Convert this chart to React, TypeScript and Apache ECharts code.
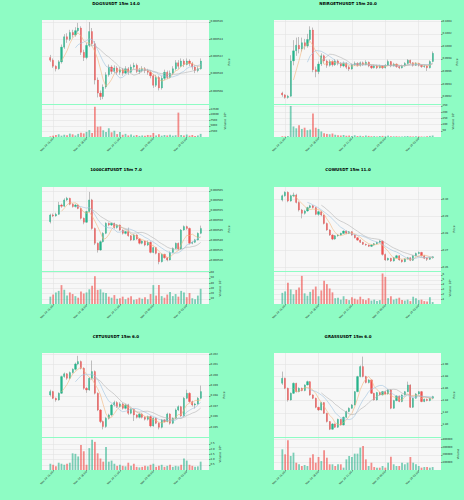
import { useEffect, useRef } from 'react';
import * as echarts from 'echarts';

// ---- shared time axis ----
const TICK_INDEX = [1, 13, 25, 37, 49];
const TICK_LABELS = ['Nov 24 15:00', 'Nov 24 18:00', 'Nov 24 21:00', 'Nov 25 00:00', 'Nov 25 03:00'];
const MA_PERIODS = [5, 10, 15];

// ---- DOGSUSDT (prices in 1e-6) ----
const DOGS_UNIT = 1e-6;
const DOGS_OHLC = [
  [511.9, 511.6, 511.4, 512.2], [511.6, 510.9, 510.7, 511.8], [510.9, 510.6, 510.3, 511.0], [510.6, 511.4, 510.5, 511.6],
  [511.4, 513.1, 511.2, 513.4], [513.1, 514.3, 512.9, 514.6], [514.3, 514.0, 513.6, 514.7], [514.0, 514.8, 513.8, 515.1],
  [514.8, 514.5, 514.2, 515.1], [514.5, 515.0, 514.3, 515.4], [515.0, 515.3, 514.8, 515.9], [515.3, 512.5, 512.2, 515.5],
  [512.5, 511.9, 511.5, 512.8], [511.9, 513.3, 511.7, 513.6], [513.3, 514.9, 513.1, 516.0], [514.9, 513.5, 513.2, 515.3],
  [513.5, 509.3, 508.8, 513.8], [509.3, 507.8, 507.3, 509.6], [507.8, 507.4, 507.0, 508.1], [507.4, 508.5, 507.1, 508.8],
  [508.5, 509.9, 508.3, 510.2], [509.9, 510.8, 509.7, 511.1], [510.8, 510.3, 510.0, 511.0], [510.3, 510.7, 510.1, 511.0],
  [510.7, 510.2, 509.9, 510.9], [510.2, 510.5, 509.9, 510.8], [510.5, 510.1, 509.8, 510.7], [510.1, 510.6, 510.0, 510.9],
  [510.6, 510.2, 509.9, 510.8], [510.2, 510.8, 510.1, 511.1], [510.8, 511.0, 510.6, 511.3], [511.0, 510.3, 510.1, 511.2],
  [510.3, 510.4, 510.0, 510.7], [510.4, 510.6, 510.2, 510.9], [510.6, 510.4, 510.1, 510.8], [510.4, 510.2, 509.9, 510.6],
  [510.2, 509.8, 509.5, 510.4], [509.8, 508.7, 508.4, 510.0], [508.7, 509.6, 508.5, 509.9], [509.6, 508.4, 508.1, 509.8],
  [508.4, 509.5, 508.2, 509.8], [509.5, 510.2, 509.3, 510.5], [510.2, 509.6, 509.4, 510.4], [509.6, 510.1, 509.5, 510.4],
  [510.1, 510.6, 509.9, 510.9], [510.6, 511.3, 510.4, 511.6], [511.3, 510.9, 510.6, 511.6], [510.9, 511.5, 510.8, 511.8],
  [511.5, 511.1, 510.8, 511.7], [511.1, 511.5, 511.0, 511.8], [511.5, 511.2, 510.9, 511.7], [511.2, 510.8, 510.5, 511.4],
  [510.8, 510.4, 510.1, 511.0], [510.4, 510.6, 510.2, 510.9], [510.6, 511.5, 510.5, 511.8],
];
const DOGS_VOLUME = [
  300, 600, 900, 1200, 600, 1000, 800, 1500, 1200, 700, 1400, 1900, 1600, 2300, 3100, 1800, 13500, 4600, 4700, 3000,
  2200, 3900, 2100, 2800, 1300, 2200, 1000, 1400, 700, 1100, 600, 900, 500, 700, 600, 900, 800, 1800, 700, 1200,
  600, 900, 700, 1000, 600, 800, 10900, 900, 700, 1100, 600, 900, 500, 700, 1400,
];
const DOGS_PRICE_TICKS = [0.000508, 0.00051, 0.000512, 0.000514, 0.000516];
const DOGS_VOLUME_TICKS = [2500, 5000, 7500, 10000, 12500];

// ---- NEIROETHUSDT (prices in 1e-4) ----
const NEIRO_UNIT = 1e-4;
const NEIRO_OHLC = [
  [992.6, 992.3, 992.0, 992.8], [992.3, 991.9, 991.7, 992.4], [991.9, 992.1, 991.7, 992.3], [992.1, 997.7, 992.0, 998.6],
  [997.7, 999.3, 997.0, 1001.0], [999.3, 1000.2, 998.5, 1001.4], [1000.2, 999.6, 998.9, 1001.5], [999.6, 1000.6, 999.2, 1001.4],
  [1000.6, 1000.1, 999.5, 1001.2], [1000.1, 1001.1, 999.8, 1002.0], [1001.1, 1002.6, 1000.8, 1003.2], [1002.6, 996.3, 995.9, 1003.0],
  [996.3, 996.0, 995.1, 996.8], [996.0, 997.2, 995.6, 997.6], [997.2, 998.5, 996.9, 998.9], [998.5, 997.7, 997.3, 998.7],
  [997.7, 997.0, 996.6, 997.9], [997.0, 997.6, 996.8, 997.9], [997.6, 997.1, 996.8, 997.8], [997.1, 997.7, 996.9, 998.0],
  [997.7, 997.3, 997.0, 997.9], [997.3, 996.9, 996.6, 997.5], [996.9, 997.3, 996.7, 997.6], [997.3, 996.7, 996.4, 997.5],
  [996.7, 996.4, 996.1, 996.9], [996.4, 997.1, 996.3, 997.3], [997.1, 997.3, 996.9, 997.6], [997.3, 997.0, 996.8, 997.5],
  [997.0, 997.4, 996.8, 997.6], [997.4, 997.1, 996.9, 997.6], [997.1, 997.5, 997.0, 997.8], [997.5, 996.9, 996.7, 997.6],
  [996.9, 996.6, 996.4, 997.1], [996.6, 996.9, 996.5, 997.1], [996.9, 996.6, 996.4, 997.1], [996.6, 996.9, 996.5, 997.1],
  [996.9, 996.6, 996.4, 997.0], [996.6, 997.0, 996.5, 997.2], [997.0, 997.6, 996.9, 997.9], [997.6, 996.9, 996.7, 997.7],
  [996.9, 997.2, 996.8, 997.4], [997.2, 996.8, 996.6, 997.3], [996.8, 996.6, 996.4, 996.9], [996.6, 996.9, 996.5, 997.1],
  [996.9, 997.3, 996.8, 997.5], [997.3, 997.8, 997.1, 998.0], [997.8, 997.4, 997.2, 997.9], [997.4, 997.0, 996.8, 997.5],
  [997.0, 997.3, 996.9, 997.5], [997.3, 997.0, 996.8, 997.4], [997.0, 996.8, 996.6, 997.1], [996.8, 996.9, 996.6, 997.1],
  [996.9, 996.6, 996.1, 997.0], [996.6, 997.6, 996.5, 997.8], [997.6, 998.9, 997.5, 999.2],
];
const NEIRO_VOLUME = [
  6, 4, 8, 250, 85, 70, 95, 65, 75, 55, 60, 190, 75, 65, 45, 30, 25, 22, 28, 18,
  14, 12, 16, 10, 12, 9, 14, 8, 10, 7, 12, 9, 6, 7, 5, 8, 9, 6, 11, 7,
  5, 6, 4, 5, 6, 8, 5, 4, 6, 5, 4, 3, 6, 9, 12,
];
const NEIRO_PRICE_TICKS = [0.0992, 0.0994, 0.0996, 0.0998, 0.1, 0.1002, 0.1004];
const NEIRO_VOLUME_TICKS = [50, 100, 150, 200, 250];

// ---- 1000CATUSDT (prices in 1e-6) ----
const CAT_UNIT = 1e-6;
const CAT_OHLC = [
  [549.5, 552.9, 548.6, 553.5], [552.9, 552.4, 551.8, 553.6], [552.4, 553.2, 552.0, 554.0], [553.2, 557.9, 552.9, 559.5],
  [557.9, 557.3, 556.5, 558.6], [557.3, 560.5, 557.0, 561.3], [560.5, 561.3, 559.9, 562.0], [561.3, 558.3, 557.8, 561.6],
  [558.3, 557.1, 556.6, 558.8], [557.1, 557.9, 556.7, 558.5], [557.9, 556.2, 555.8, 558.2], [556.2, 551.2, 550.6, 556.5],
  [551.2, 549.2, 548.2, 551.6], [549.2, 554.6, 548.9, 555.0], [554.6, 560.5, 554.3, 564.5], [560.5, 546.1, 545.5, 561.0],
  [546.1, 538.6, 537.7, 546.5], [538.6, 535.2, 533.9, 539.0], [535.2, 539.4, 534.8, 540.0], [539.4, 543.6, 539.0, 544.2],
  [543.6, 548.7, 543.2, 549.2], [548.7, 547.8, 547.2, 549.1], [547.8, 548.7, 547.3, 549.0], [548.7, 546.5, 546.0, 549.0],
  [546.5, 547.8, 546.0, 548.3], [547.8, 545.3, 544.8, 548.1], [545.3, 543.6, 543.0, 545.6], [543.6, 544.5, 543.1, 544.9],
  [544.5, 542.4, 541.9, 546.5], [542.4, 540.3, 539.7, 542.8], [540.3, 542.8, 539.9, 543.2], [542.8, 540.8, 540.3, 543.1],
  [540.8, 538.6, 538.0, 541.2], [538.6, 539.7, 538.1, 540.1], [539.7, 537.7, 537.1, 540.0], [537.7, 539.1, 537.2, 540.0],
  [539.1, 534.0, 533.5, 539.5], [534.0, 536.4, 533.6, 536.9], [536.4, 533.5, 533.0, 536.8], [533.5, 529.3, 528.0, 533.8],
  [529.3, 533.0, 528.9, 533.5], [533.0, 531.3, 530.8, 533.3], [531.3, 530.2, 529.5, 531.6], [530.2, 534.0, 529.9, 534.5],
  [534.0, 536.0, 533.6, 536.5], [536.0, 538.6, 535.7, 539.0], [538.6, 535.7, 535.2, 539.0], [535.7, 545.3, 535.3, 545.8],
  [545.3, 547.0, 544.9, 547.6], [547.0, 546.1, 545.4, 547.5], [546.1, 538.6, 538.0, 546.5], [538.6, 539.1, 538.1, 539.6],
  [539.1, 540.3, 538.7, 540.8], [540.3, 543.6, 540.0, 544.1], [543.6, 546.1, 543.2, 547.5],
];
const CAT_VOLUME = [
  14, 18, 22, 25, 36, 27, 16, 22, 19, 15, 12, 24, 20, 22, 28, 35, 53, 27, 28, 22,
  21, 14, 12, 17, 10, 11, 14, 9, 12, 15, 8, 9, 12, 10, 13, 9, 19, 36, 16, 36,
  15, 12, 18, 23, 15, 19, 14, 25, 22, 13, 21, 11, 9, 16, 29,
];
const CAT_PRICE_TICKS = [0.00053, 0.000535, 0.00054, 0.000545, 0.00055, 0.000555, 0.00056, 0.000565];
const CAT_VOLUME_TICKS = [10, 20, 30, 40, 50, 60];

// ---- COWUSDT ----
const COW_OHLC = [
  [0.2998, 0.3024, 0.2990, 0.3030], [0.3024, 0.3044, 0.3018, 0.3050], [0.3044, 0.2992, 0.2985, 0.3050], [0.2992, 0.3024, 0.2988, 0.3030],
  [0.3024, 0.3028, 0.3015, 0.3042], [0.3028, 0.2984, 0.2978, 0.3035], [0.2984, 0.2939, 0.2930, 0.2990], [0.2939, 0.2919, 0.2889, 0.2945],
  [0.2919, 0.2933, 0.2912, 0.2940], [0.2933, 0.2953, 0.2928, 0.2958], [0.2953, 0.2964, 0.2948, 0.2970], [0.2964, 0.2953, 0.2948, 0.2968],
  [0.2953, 0.2913, 0.2908, 0.2958], [0.2913, 0.2929, 0.2905, 0.2935], [0.2929, 0.2909, 0.2902, 0.2934], [0.2909, 0.2859, 0.2853, 0.2912],
  [0.2859, 0.2820, 0.2815, 0.2864], [0.2820, 0.2790, 0.2785, 0.2825], [0.2790, 0.2766, 0.2760, 0.2795], [0.2766, 0.2786, 0.2762, 0.2790],
  [0.2786, 0.2790, 0.2780, 0.2796], [0.2790, 0.2800, 0.2786, 0.2804], [0.2800, 0.2814, 0.2796, 0.2818], [0.2814, 0.2800, 0.2795, 0.2818],
  [0.2800, 0.2810, 0.2796, 0.2814], [0.2810, 0.2790, 0.2786, 0.2813], [0.2790, 0.2774, 0.2770, 0.2794], [0.2774, 0.2760, 0.2756, 0.2778],
  [0.2760, 0.2747, 0.2743, 0.2764], [0.2747, 0.2735, 0.2731, 0.2750], [0.2735, 0.2731, 0.2726, 0.2739], [0.2731, 0.2723, 0.2719, 0.2734],
  [0.2723, 0.2731, 0.2719, 0.2735], [0.2731, 0.2739, 0.2727, 0.2743], [0.2739, 0.2747, 0.2735, 0.2750], [0.2747, 0.2754, 0.2743, 0.2760],
  [0.2754, 0.2675, 0.2668, 0.2758], [0.2675, 0.2642, 0.2636, 0.2680], [0.2642, 0.2652, 0.2637, 0.2656], [0.2652, 0.2636, 0.2630, 0.2655],
  [0.2636, 0.2655, 0.2632, 0.2660], [0.2655, 0.2667, 0.2650, 0.2672], [0.2667, 0.2642, 0.2637, 0.2670], [0.2642, 0.2632, 0.2626, 0.2645],
  [0.2632, 0.2648, 0.2628, 0.2652], [0.2648, 0.2655, 0.2644, 0.2660], [0.2655, 0.2640, 0.2635, 0.2658], [0.2640, 0.2667, 0.2636, 0.2671],
  [0.2667, 0.2681, 0.2663, 0.2686], [0.2681, 0.2687, 0.2676, 0.2692], [0.2687, 0.2667, 0.2662, 0.2690], [0.2667, 0.2652, 0.2647, 0.2670],
  [0.2652, 0.2646, 0.2636, 0.2656], [0.2646, 0.2655, 0.2642, 0.2659], [0.2655, 0.2661, 0.2650, 0.2665],
];
const COW_VOLUME = [
  2.3, 2.6, 4.4, 3.0, 2.0, 2.9, 3.4, 5.8, 2.2, 1.7, 2.5, 3.0, 3.6, 1.6, 2.8, 4.8, 4.1, 3.2, 2.4, 1.2,
  1.3, 0.9, 1.6, 1.0, 0.8, 1.4, 1.1, 0.9, 1.5, 1.0, 0.8, 1.2, 0.7, 0.9, 0.6, 0.8, 6.3, 5.6, 1.2, 1.6,
  0.9, 1.1, 1.3, 0.8, 0.7, 0.9, 0.6, 1.5, 1.2, 0.8, 0.9, 0.6, 0.5, 1.4, 0.4,
];
const COW_PRICE_TICKS = [0.26, 0.27, 0.28, 0.29, 0.3];
const COW_VOLUME_TICKS = [1, 2, 3, 4, 5, 6];

// ---- CETUSUSDT ----
const CETUS_OHLC = [
  [0.19810, 0.19842, 0.19795, 0.19860], [0.19842, 0.19778, 0.19770, 0.19850], [0.19778, 0.19762, 0.19745, 0.19785], [0.19762, 0.19826, 0.19755, 0.19835],
  [0.19826, 0.19986, 0.19820, 0.19995], [0.19986, 0.20012, 0.19975, 0.20025], [0.20012, 0.19970, 0.19955, 0.20020], [0.19970, 0.20024, 0.19960, 0.20035],
  [0.20024, 0.20056, 0.20015, 0.20065], [0.20056, 0.20107, 0.20045, 0.20120], [0.20107, 0.20130, 0.20095, 0.20185], [0.20130, 0.20066, 0.20055, 0.20140],
  [0.20066, 0.19874, 0.19860, 0.20075], [0.19874, 0.19858, 0.19830, 0.19885], [0.19858, 0.19970, 0.19850, 0.19980], [0.19970, 0.20034, 0.19960, 0.20140],
  [0.20034, 0.19826, 0.19815, 0.20045], [0.19826, 0.19666, 0.19655, 0.19835], [0.19666, 0.19555, 0.19540, 0.19675], [0.19555, 0.19507, 0.19480, 0.19565],
  [0.19507, 0.19587, 0.19495, 0.19600], [0.19587, 0.19619, 0.19575, 0.19630], [0.19619, 0.19714, 0.19605, 0.19725], [0.19714, 0.19737, 0.19700, 0.19755],
  [0.19737, 0.19698, 0.19685, 0.19750], [0.19698, 0.19724, 0.19690, 0.19740], [0.19724, 0.19682, 0.19670, 0.19735], [0.19682, 0.19714, 0.19672, 0.19725],
  [0.19714, 0.19635, 0.19620, 0.19725], [0.19635, 0.19673, 0.19625, 0.19685], [0.19673, 0.19619, 0.19560, 0.19680], [0.19619, 0.19596, 0.19585, 0.19625],
  [0.19596, 0.19628, 0.19585, 0.19640], [0.19628, 0.19596, 0.19585, 0.19635], [0.19596, 0.19577, 0.19565, 0.19605], [0.19577, 0.19603, 0.19565, 0.19612],
  [0.19603, 0.19513, 0.19500, 0.19612], [0.19513, 0.19587, 0.19505, 0.19598], [0.19587, 0.19539, 0.19530, 0.19595], [0.19539, 0.19500, 0.19480, 0.19548],
  [0.19500, 0.19571, 0.19490, 0.19580], [0.19571, 0.19555, 0.19545, 0.19578], [0.19555, 0.19628, 0.19548, 0.19640], [0.19628, 0.19539, 0.19525, 0.19635],
  [0.19539, 0.19587, 0.19530, 0.19595], [0.19587, 0.19666, 0.19580, 0.19680], [0.19666, 0.19698, 0.19655, 0.19710], [0.19698, 0.19609, 0.19600, 0.19705],
  [0.19609, 0.19778, 0.19600, 0.19790], [0.19778, 0.19826, 0.19770, 0.19860], [0.19826, 0.19746, 0.19735, 0.19835], [0.19746, 0.19714, 0.19700, 0.19755],
  [0.19714, 0.19724, 0.19680, 0.19735], [0.19724, 0.19778, 0.19715, 0.19790], [0.19778, 0.19842, 0.19770, 0.19900],
];
const CETUS_VOLUME = [
  0.6, 0.5, 0.35, 0.7, 0.6, 0.5, 0.6, 0.7, 1.6, 1.55, 1.3, 2.4, 1.8, 0.5, 2.1, 2.9, 2.7, 1.6, 1.1, 0.8,
  2.2, 0.8, 0.9, 0.6, 0.4, 0.5, 0.4, 0.35, 0.7, 0.4, 0.6, 0.3, 0.25, 0.3, 0.4, 0.35, 0.5, 0.6, 0.3, 0.4,
  0.5, 0.3, 0.4, 0.5, 0.3, 0.4, 0.35, 0.5, 1.1, 0.9, 0.5, 0.4, 0.3, 0.35, 0.8,
];
const CETUS_PRICE_TICKS = [0.195, 0.196, 0.197, 0.198, 0.199, 0.2, 0.201, 0.202];
const CETUS_VOLUME_TICKS = [0.5, 1.0, 1.5, 2.0, 2.5];

// ---- GRASSUSDT ----
const GRASS_OHLC = [
  [1.8687, 1.8769, 1.8660, 1.8879], [1.8769, 1.8604, 1.8590, 1.8780], [1.8604, 1.8412, 1.8385, 1.8615], [1.8412, 1.8522, 1.8400, 1.8535],
  [1.8522, 1.8687, 1.8510, 1.8700], [1.8687, 1.8549, 1.8535, 1.8695], [1.8549, 1.8604, 1.8538, 1.8620], [1.8604, 1.8566, 1.8555, 1.8615],
  [1.8566, 1.8659, 1.8555, 1.8670], [1.8659, 1.8714, 1.8650, 1.8730], [1.8714, 1.8495, 1.8480, 1.8725], [1.8495, 1.8440, 1.8425, 1.8505],
  [1.8440, 1.8291, 1.8275, 1.8450], [1.8291, 1.8247, 1.8230, 1.8300], [1.8247, 1.8368, 1.8235, 1.8380], [1.8368, 1.8192, 1.8180, 1.8375],
  [1.8192, 1.8055, 1.8040, 1.8200], [1.8055, 1.7929, 1.7915, 1.8065], [1.7929, 1.8016, 1.7920, 1.8030], [1.8016, 1.7962, 1.7950, 1.8025],
  [1.7962, 1.8093, 1.7950, 1.8105], [1.8093, 1.8000, 1.7990, 1.8100], [1.8000, 1.8126, 1.7990, 1.8140], [1.8126, 1.8220, 1.8115, 1.8235],
  [1.8220, 1.8275, 1.8210, 1.8290], [1.8275, 1.8330, 1.8265, 1.8345], [1.8330, 1.8549, 1.8320, 1.8560], [1.8549, 1.8797, 1.8540, 1.8810],
  [1.8797, 1.8962, 1.8785, 1.8980], [1.8962, 1.8797, 1.8785, 1.9126], [1.8797, 1.8698, 1.8685, 1.8810], [1.8698, 1.8742, 1.8685, 1.8755],
  [1.8742, 1.8522, 1.8510, 1.8750], [1.8522, 1.8412, 1.8400, 1.8530], [1.8412, 1.8533, 1.8400, 1.8545], [1.8533, 1.8495, 1.8485, 1.8545],
  [1.8495, 1.8549, 1.8485, 1.8560], [1.8549, 1.8511, 1.8500, 1.8560], [1.8511, 1.8577, 1.8500, 1.8590], [1.8577, 1.8275, 1.8260, 1.8590],
  [1.8275, 1.8401, 1.8265, 1.8415], [1.8401, 1.8478, 1.8390, 1.8490], [1.8478, 1.8385, 1.8375, 1.8485], [1.8385, 1.8495, 1.8375, 1.8505],
  [1.8495, 1.8549, 1.8485, 1.8560], [1.8549, 1.8659, 1.8540, 1.8714], [1.8659, 1.8291, 1.8280, 1.8670], [1.8291, 1.8440, 1.8280, 1.8450],
  [1.8440, 1.8511, 1.8430, 1.8525], [1.8511, 1.8549, 1.8500, 1.8560], [1.8549, 1.8385, 1.8375, 1.8560], [1.8385, 1.8423, 1.8375, 1.8435],
  [1.8423, 1.8401, 1.8390, 1.8435], [1.8401, 1.8440, 1.8390, 1.8450], [1.8440, 1.8467, 1.8430, 1.8480],
];
const GRASS_VOLUME = [
  272000, 206000, 390000, 184000, 228000, 96000, 75000, 53000, 66000, 53000, 162000, 206000, 96000, 171000, 118000, 259000, 162000, 75000, 75000, 53000,
  75000, 75000, 31000, 140000, 184000, 171000, 215000, 215000, 294000, 316000, 140000, 53000, 96000, 39000, 31000, 31000, 53000, 31000, 96000, 175000,
  75000, 53000, 53000, 96000, 75000, 96000, 171000, 96000, 75000, 53000, 31000, 39000, 39000, 31000, 39000,
];
const GRASS_PRICE_TICKS = [1.8, 1.82, 1.84, 1.86, 1.88, 1.9];
const GRASS_VOLUME_TICKS = [100000, 200000, 300000, 400000];

// ---- chart table ----
const CHARTS = [
  { title: 'DOGSUSDT 15m 14.0', unit: DOGS_UNIT, ohlc: DOGS_OHLC, volume: DOGS_VOLUME, priceTicks: DOGS_PRICE_TICKS, priceDec: 6,
    volTicks: DOGS_VOLUME_TICKS, volDec: 0, yMin: 0.00050654, yMax: 0.00051623, volMax: 14300, volName: 'Volume  10⁶' },
  { title: 'NEIROETHUSDT 15m 20.0', unit: NEIRO_UNIT, ohlc: NEIRO_OHLC, volume: NEIRO_VOLUME, priceTicks: NEIRO_PRICE_TICKS, priceDec: 4,
    volTicks: NEIRO_VOLUME_TICKS, volDec: 0, yMin: 0.099085, yMax: 0.10042, volMax: 258, volName: 'Volume  10⁴' },
  { title: '1000CATUSDT 15m 7.0', unit: CAT_UNIT, ohlc: CAT_OHLC, volume: CAT_VOLUME, priceTicks: CAT_PRICE_TICKS, priceDec: 6,
    volTicks: CAT_VOLUME_TICKS, volDec: 0, yMin: 0.0005246, yMax: 0.000567, volMax: 61, volName: 'Volume  10⁵' },
  { title: 'COWUSDT 15m 11.0', unit: 1, ohlc: COW_OHLC, volume: COW_VOLUME, priceTicks: COW_PRICE_TICKS, priceDec: 2,
    volTicks: COW_VOLUME_TICKS, volDec: 0, yMin: 0.25764, yMax: 0.30755, volMax: 6.6, volName: 'Volume  10⁶' },
  { title: 'CETUSUSDT 15m 6.0', unit: 1, ohlc: CETUS_OHLC, volume: CETUS_VOLUME, priceTicks: CETUS_PRICE_TICKS, priceDec: 3,
    volTicks: CETUS_VOLUME_TICKS, volDec: 1, yMin: 0.19407, yMax: 0.20212, volMax: 3.07, volName: 'Volume  10⁶' },
  { title: 'GRASSUSDT 15m 6.0', unit: 1, ohlc: GRASS_OHLC, volume: GRASS_VOLUME, priceTicks: GRASS_PRICE_TICKS, priceDec: 2,
    volTicks: GRASS_VOLUME_TICKS, volDec: 0, yMin: 1.7801, yMax: 1.9186, volMax: 421000, volName: 'Volume' },
];

// ---- styling / layout ----
const BG = '#8efcc4';
const PLOT_BG = '#f7f7f7';
const GRID_LINE = '#e2e2e2';
const UP = '#26b38a';
const DOWN = '#ef5350';
const UP_VOL = 'rgba(38,179,138,0.6)';
const DOWN_VOL = 'rgba(239,83,80,0.65)';
const WICK = '#adadad';
const MA_COLORS = ['#f3b67a', '#9fc3df', '#b3b3b3'];
const FONT = 'DejaVu Sans';
const TICK_FS = 2.6;
const COL_LEFT = [42, 274];
const COL_CENTER = [116, 348];
const ROW_TOP = [20, 187, 353];
const TITLE_TOP = [1, 167.5, 334];
const PLOT_W = 167;
const PRICE_H = 84;
const VOL_GAP = 1;
const VOL_H = 32;
const PAD = 3;

function textW(s: string, fs: number) {
  let w = 0;
  for (const ch of s) w += ch === '.' ? 0.318 : 0.636;
  return w * fs;
}

function buildOption() {
  const n = CHARTS[0].ohlc.length;
  const total = n + 2 * PAD;
  const cats = Array.from({ length: total }, (_, i) => String(i));
  const tickSet = new Set(TICK_INDEX.map((i) => i + PAD));
  const labelOf = new Map(TICK_INDEX.map((i, k) => [String(i + PAD), TICK_LABELS[k]]));
  const showAt = (idx: number) => tickSet.has(idx);
  const pad: any[] = Array.from({ length: PAD }, () => '-');

  const grids: any[] = [];
  const xAxes: any[] = [];
  const yAxes: any[] = [];
  const series: any[] = [];
  const titles: any[] = [];

  CHARTS.forEach((c, k) => {
    const col = k % 2;
    const row = Math.floor(k / 2);
    const left = COL_LEFT[col];
    const top = ROW_TOP[row];
    const pg = 2 * k;
    const vg = 2 * k + 1;
    const ohlc = c.ohlc.map((r) => r.map((v) => v * c.unit));
    const closes = ohlc.map((r) => r[1]);

    titles.push({
      text: c.title, left: COL_CENTER[col], top: TITLE_TOP[row], textAlign: 'center', padding: 0,
      textStyle: { fontSize: 4, fontWeight: 'bold', color: '#000', fontFamily: FONT },
    });

    grids.push({ left, top, width: PLOT_W, height: PRICE_H, show: true, backgroundColor: PLOT_BG, borderWidth: 0 });
    grids.push({ left, top: top + PRICE_H + VOL_GAP, width: PLOT_W, height: VOL_H, show: true, backgroundColor: PLOT_BG, borderWidth: 0 });

    const baseX = {
      type: 'category', data: cats, boundaryGap: false,
      axisLine: { show: false },
      splitLine: { show: true, interval: showAt, lineStyle: { color: GRID_LINE, width: 0.6 } },
    };
    xAxes.push({ ...baseX, gridIndex: pg, axisTick: { show: false }, axisLabel: { show: false } });
    xAxes.push({
      ...baseX, gridIndex: vg,
      axisTick: { show: true, interval: showAt, length: 1.5, lineStyle: { color: '#444', width: 0.5 } },
      axisLabel: {
        show: true, interval: showAt, rotate: 45, fontSize: TICK_FS, margin: 2, color: '#222', fontFamily: FONT,
        formatter: (v: string) => labelOf.get(v) || '',
      },
    });

    const priceLabels = c.priceTicks.map((v) => v.toFixed(c.priceDec));
    const priceW = Math.max(...priceLabels.map((s) => textW(s, TICK_FS)));
    const volLabels = c.volTicks.map((v) => v.toFixed(c.volDec));
    const volW = Math.max(...volLabels.map((s) => textW(s, TICK_FS)));

    const baseY = {
      type: 'value', position: 'right', scale: true,
      axisLine: { show: false },
      splitLine: { show: true, lineStyle: { color: GRID_LINE, width: 0.6 } },
      nameLocation: 'middle', nameRotate: 90,
      nameTextStyle: { fontSize: 2.8, color: '#222', fontFamily: FONT },
    };
    yAxes.push({
      ...baseY, gridIndex: pg, min: c.yMin, max: c.yMax, name: 'Price', nameGap: priceW + 5,
      axisTick: { show: true, length: 1.5, customValues: c.priceTicks, lineStyle: { color: '#444', width: 0.5 } },
      axisLabel: {
        customValues: c.priceTicks, fontSize: TICK_FS, margin: 1.5, color: '#222', fontFamily: FONT,
        formatter: (v: number) => v.toFixed(c.priceDec),
      },
    });
    yAxes.push({
      ...baseY, gridIndex: vg, min: 0, max: c.volMax, name: c.volName, nameGap: volW + 5,
      axisTick: { show: true, length: 1.5, customValues: c.volTicks, lineStyle: { color: '#444', width: 0.5 } },
      axisLabel: {
        customValues: c.volTicks, fontSize: TICK_FS, margin: 1.5, color: '#222', fontFamily: FONT,
        formatter: (v: number) => v.toFixed(c.volDec),
      },
    });

    series.push({
      type: 'candlestick', xAxisIndex: pg, yAxisIndex: pg, silent: true, barWidth: 1.0,
      data: pad.concat(ohlc.map(([o, cl, l, h]) => [o, cl, l, h])),
      itemStyle: { color: WICK, color0: WICK, borderColor: WICK, borderColor0: WICK, borderWidth: 0.8 },
    });
    series.push({
      type: 'candlestick', xAxisIndex: pg, yAxisIndex: pg, silent: true, barWidth: 1.7,
      data: pad.concat(ohlc.map(([o, cl]) => [o, cl, Math.min(o, cl), Math.max(o, cl)])),
      itemStyle: { color: UP, color0: DOWN, borderColor: UP, borderColor0: DOWN, borderWidth: 0.3 },
    });
    MA_PERIODS.forEach((p, m) => {
      const ma = closes.map((_, i) => {
        if (i < p - 1) return '-';
        let s = 0;
        for (let j = i - p + 1; j <= i; j++) s += closes[j];
        return s / p;
      });
      series.push({
        type: 'line', xAxisIndex: pg, yAxisIndex: pg, silent: true, symbol: 'none', showSymbol: false,
        data: pad.concat(ma), lineStyle: { width: 0.6, color: MA_COLORS[m] }, z: 3,
      });
    });
    series.push({
      type: 'bar', xAxisIndex: vg, yAxisIndex: vg, silent: true, barWidth: 1.8,
      data: pad.concat(c.volume.map((v, i) => ({
        value: v, itemStyle: { color: ohlc[i][1] >= ohlc[i][0] ? UP_VOL : DOWN_VOL },
      }))),
    });
  });

  return {
    animation: false,
    backgroundColor: BG,
    textStyle: { fontFamily: FONT },
    title: titles,
    grid: grids,
    xAxis: xAxes,
    yAxis: yAxes,
    series,
  };
}

export default function App() {
  const ref = useRef<HTMLDivElement>(null);
  useEffect(() => {
    if (!ref.current) return;
    const chart = echarts.init(ref.current, undefined, { renderer: 'svg' });
    chart.setOption(buildOption() as any);
    return () => chart.dispose();
  }, []);
  return (
    <div
      ref={ref}
      style={{ position: 'fixed', left: 0, top: 0, width: 464, height: 500, background: BG }}
    />
  );
}
